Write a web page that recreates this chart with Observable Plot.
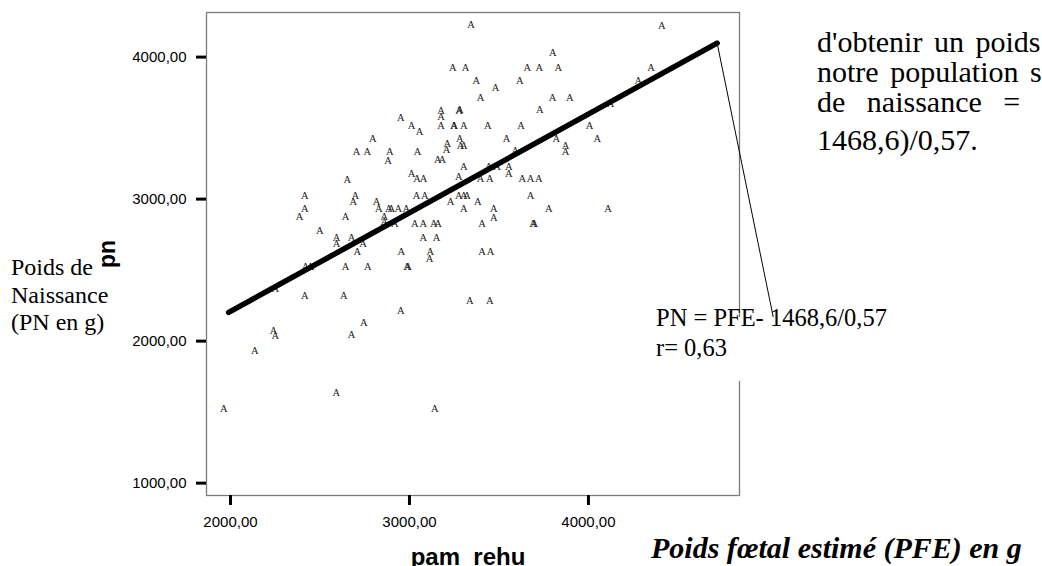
<!DOCTYPE html>
<html><head><meta charset="utf-8">
<script src="https://cdn.jsdelivr.net/npm/d3@7"></script>
<script src="https://cdn.jsdelivr.net/npm/@observablehq/plot@0.6"></script>
<style>
html,body{margin:0;padding:0;background:#fff;overflow:hidden;}
#wrap{position:relative;width:1042px;height:566px;overflow:hidden;background:#fff;}
#wrap svg{position:absolute;left:0;top:0;}
.t{position:absolute;white-space:nowrap;font-family:"Liberation Serif","Times New Roman",serif;color:#000;line-height:1;}
.s{position:absolute;white-space:nowrap;font-family:"Liberation Sans",Arial,sans-serif;font-weight:bold;color:#000;line-height:1;}
</style></head><body><div id="wrap"></div>
<script>
// Poids foetal estimé (pam_rehu) and poids de naissance (pn)
const pamRehu = [3344,4410,3801,3242,3313,3658,3726,3831,4350,3374,3481,3616,4278,3397,3799,3896,4123,3177,3177,3281,3277,3728,2951,3011,3056,3177,3248,3251,3303,3438,3624,4006,2795,3281,3285,3303,3542,3821,3872,3872,4049,2704,2764,2890,2881,3045,3211,3207,3158,3183,3592,3303,3443,3490,3555,3555,3011,3043,3276,3397,3449,3630,3676,3722,2652,3078,
2415,2698,2686,3039,3086,2816,2829,2884,2898,2937,2982,3229,3276,3303,3322,3303,3382,3676,3471,3471,3406,3778,4110,3691,3698,3406,3453,3337,3449,2415,2386,2643,2860,2860,2918,2499,3030,3077,3136,3160,2592,2592,2676,2741,2708,3077,3151,2954,3117,3112,2419,2447,2643,2767,2987,2992,2251,2415,2633,2951,2745,2240,2251,2676,2136,2591,1963,3141];
const pn = [4227,4223,4028,3925,3925,3925,3925,3925,3925,3831,3784,3831,3831,3718,3718,3718,3672,3625,3582,3630,3621,3630,3577,3519,3472,3519,3519,3515,3519,3519,3519,3519,3425,3425,3378,3378,3425,3425,3378,3331,3425,3331,3331,3331,3272,3331,3390,3348,3277,3277,3343,3230,3230,3230,3230,3179,3179,3146,3155,3144,3144,3144,3144,3144,3139,3144,
3026,3026,2979,3026,3026,2979,2932,2932,2932,2932,2932,2979,3026,3026,3026,2932,2979,3026,2932,2873,2827,2932,2932,2827,2825,2632,2632,2287,2287,2932,2878,2878,2878,2838,2827,2775,2827,2827,2827,2827,2732,2686,2732,2686,2632,2732,2732,2627,2632,2580,2528,2528,2528,2528,2528,2526,2369,2322,2322,2216,2127,2075,2040,2045,1930,1637,1528,1528];
// regression line (ends) and leader line to the equation
const fitX = [1990, 4719];
const fitY = [2202, 4099];
const leaderX = [4719, 5034];
const leaderY = [4099, 2160];
const xTicks = [2000, 3000, 4000];
const yTicks = [1000, 2000, 3000, 4000];
const xDomain = [1866, 4844];
const yDomain = [913, 4314];

const fmt = v => v.toFixed(2).replace(".", ",");
const points = pamRehu.map((x, i) => ({x, y: pn[i]}));
const fit = fitX.map((x, i) => ({x, y: fitY[i]}));
const leader = leaderX.map((x, i) => ({x, y: leaderY[i]}));

const chart = Plot.plot({
  width: 1042, height: 566,
  marginLeft: 206, marginRight: 303, marginTop: 12, marginBottom: 71,
  x: {domain: xDomain},
  y: {domain: yDomain},
  style: {fontFamily: "'Liberation Sans', Arial, sans-serif", fontSize: "15px", color: "#000", background: "transparent", overflow: "visible"},
  marks: [
    Plot.frame({stroke: "#7a7a7a", strokeWidth: 1.3}),
    Plot.axisX({ticks: xTicks, tickFormat: fmt, tickSize: 10, tickPadding: 11, strokeWidth: 3, label: null, fontSize: 15}),
    Plot.axisY({ticks: yTicks, tickFormat: fmt, tickSize: 10, tickPadding: 10, strokeWidth: 3, label: null, fontSize: 15}),
    Plot.text(points, {x: "x", y: "y", text: () => "A", fontFamily: "'Liberation Serif', serif", fontSize: 10.5, fill: "#1a1a1a"}),
    Plot.line(fit, {x: "x", y: "y", stroke: "#000", strokeWidth: 5.5}),
    Plot.line(leader, {x: "x", y: "y", stroke: "#000", strokeWidth: 1})
  ]
});
const wrap = document.getElementById("wrap");
wrap.appendChild(chart);

function addText(cls, txt, left, top, size, extra) {
  const d = document.createElement("div");
  d.className = cls;
  d.textContent = txt;
  d.style.left = left + "px";
  d.style.top = top + "px";
  d.style.fontSize = size + "px";
  if (extra) Object.assign(d.style, extra);
  wrap.appendChild(d);
  return d;
}
// equation box (white, covers frame edge)
const box = document.createElement("div");
box.style.cssText = "position:absolute;left:648px;top:317px;width:250px;height:64px;background:#fff;";
wrap.appendChild(box);
addText("t", "PN = PFE- 1468,6/0,57", 656, 306, 24.5);
addText("t", "r= 0,63", 656, 336, 24.5);
// left label
addText("t", "Poids de", 11, 255, 24);
addText("t", "Naissance", 11, 282.5, 24);
addText("t", "(PN en g)", 11, 310, 24);
// axis variable names (centred on each axis, as SPSS does)
addText("s", "pam_rehu", 468, 544.7, 24, {transform: "translateX(-50%)"});
addText("s", "pn", 107, 254, 23, {transform: "translate(-50%,-50%) rotate(-90deg)"});
// right-hand text of the document
addText("t", "d'obtenir un poids", 817, 27, 30, {wordSpacing: "4px"});
addText("t", "notre population s", 817, 57, 30, {wordSpacing: "4px"});
addText("t", "de naissance =", 817, 87, 30, {wordSpacing: "14px"});
addText("t", "1468,6)/0,57.", 817, 125, 30);
addText("t", "Poids fœtal estimé (PFE) en g", 651, 533, 30, {fontWeight: "bold", fontStyle: "italic"});
</script></body></html>
